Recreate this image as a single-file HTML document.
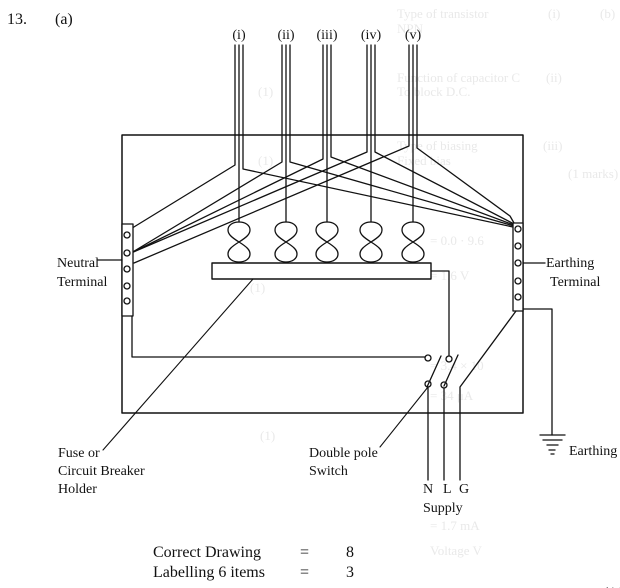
<!DOCTYPE html>
<html>
<head>
<meta charset="utf-8">
<style>
  html, body { margin: 0; padding: 0; background: #fff; }
  svg { display: block; }
  text { font-family: "Liberation Serif", "Times New Roman", serif; fill: #111; }
  .ghost text { fill: #e9e9e9; font-size: 13px; }
</style>
</head>
<body>
<svg width="620" height="588" viewBox="0 0 620 588" xmlns="http://www.w3.org/2000/svg">
  <rect x="0" y="0" width="620" height="588" fill="#fff"/>

  <!-- faint bleed-through text -->
  <g class="ghost">
    <text x="397" y="18">Type of transistor</text>
    <text x="397" y="33">NPN</text>
    <text x="548" y="18">(i)</text>
    <text x="600" y="18">(b)</text>
    <text x="397" y="82">Function of capacitor C</text>
    <text x="397" y="96">To block D.C.</text>
    <text x="258" y="96">(1)</text>
    <text x="546" y="82">(ii)</text>
    <text x="397" y="150">Type of biasing</text>
    <text x="397" y="165">Fixed bias</text>
    <text x="258" y="165">(1)</text>
    <text x="543" y="150">(iii)</text>
    <text x="568" y="178">(1 marks)</text>
    <text x="430" y="245">= 0.0 · 9.6</text>
    <text x="430" y="280">= 1.6 V</text>
    <text x="250" y="292">(1)</text>
    <text x="430" y="370">= 3.4 × 10</text>
    <text x="430" y="400">= 34 μA</text>
    <text x="260" y="440">(1)</text>
    <text x="430" y="530">= 1.7 mA</text>
    <text x="430" y="555">Voltage V</text>
  </g>

  <!-- Header -->
  <text x="7" y="24" font-size="16">13.</text>
  <text x="55" y="24" font-size="16">(a)</text>

  <!-- Top labels -->
  <g font-size="14" text-anchor="middle">
    <text x="239" y="39">(i)</text>
    <text x="286" y="39">(ii)</text>
    <text x="327" y="39">(iii)</text>
    <text x="371" y="39">(iv)</text>
    <text x="413" y="39">(v)</text>
  </g>

  <g fill="none" stroke="#111" stroke-width="1.3" stroke-linejoin="round" stroke-linecap="round">
    <!-- Main box -->
    <rect x="122" y="135" width="401" height="278" stroke-width="1.5"/>

    <!-- (i) -->
    <polyline points="235,45 235,165 129,230"/>
    <polyline points="239,45 239,222"/>
    <polyline points="243,45 243,169 513,227"/>
    <!-- (ii) -->
    <polyline points="282,45 282,162 131,253"/>
    <polyline points="286,45 286,222"/>
    <polyline points="290,45 290,162 514,226"/>
    <!-- (iii) -->
    <polyline points="323,45 323,159 131,253"/>
    <polyline points="327,45 327,222"/>
    <polyline points="331,45 331,157 514,225"/>
    <!-- (iv) -->
    <polyline points="367,45 367,152 131,253"/>
    <polyline points="371,45 371,222"/>
    <polyline points="375,45 375,152 514,224"/>
    <!-- (v) -->
    <polyline points="409,45 409,146 134,263"/>
    <polyline points="413,45 413,222"/>
    <polyline points="417,45 417,148 510,216 514,223"/>

    <!-- Coils (figure eights) -->
    <g id="coils">
      <path d="M239,242 C247,237 250,234 250,230 C250,225 245,222 239,222 C233,222 228,225 228,230 C228,234 231,237 239,242 C247,247 250,250 250,254 C250,259 245,262 239,262 C233,262 228,259 228,254 C228,250 231,247 239,242 Z"/>
      <path d="M286,242 C294,237 297,234 297,230 C297,225 292,222 286,222 C280,222 275,225 275,230 C275,234 278,237 286,242 C294,247 297,250 297,254 C297,259 292,262 286,262 C280,262 275,259 275,254 C275,250 278,247 286,242 Z"/>
      <path d="M327,242 C335,237 338,234 338,230 C338,225 333,222 327,222 C321,222 316,225 316,230 C316,234 319,237 327,242 C335,247 338,250 338,254 C338,259 333,262 327,262 C321,262 316,259 316,254 C316,250 319,247 327,242 Z"/>
      <path d="M371,242 C379,237 382,234 382,230 C382,225 377,222 371,222 C365,222 360,225 360,230 C360,234 363,237 371,242 C379,247 382,250 382,254 C382,259 377,262 371,262 C365,262 360,259 360,254 C360,250 363,247 371,242 Z"/>
      <path d="M413,242 C421,237 424,234 424,230 C424,225 419,222 413,222 C407,222 402,225 402,230 C402,234 405,237 413,242 C421,247 424,250 424,254 C424,259 419,262 413,262 C407,262 402,259 402,254 C402,250 405,247 413,242 Z"/>
    </g>

    <!-- Fuse / breaker bar -->
    <rect x="212" y="263" width="219" height="16" stroke-width="1.4"/>

    <!-- Neutral terminal strip -->
    <rect x="122" y="224" width="11" height="92" fill="#fff"/>
    <circle cx="127" cy="235" r="3"/>
    <circle cx="127" cy="253" r="3"/>
    <circle cx="127" cy="269" r="3"/>
    <circle cx="127" cy="286" r="3"/>
    <circle cx="127" cy="301" r="3"/>
    <line x1="98" y1="260" x2="122" y2="260"/>

    <!-- Earth terminal strip -->
    <rect x="513" y="223" width="10" height="88" fill="#fff"/>
    <circle cx="518" cy="229" r="3"/>
    <circle cx="518" cy="246" r="3"/>
    <circle cx="518" cy="263" r="3"/>
    <circle cx="518" cy="281" r="3"/>
    <circle cx="518" cy="297" r="3"/>
    <line x1="523" y1="263" x2="545" y2="263"/>

    <!-- Neutral return to switch -->
    <polyline points="132,316 132,357 425,357"/>
    <!-- Bar to switch -->
    <polyline points="431,271 449,271 449,356"/>

    <!-- Switch -->
    <circle cx="428" cy="358" r="3"/>
    <circle cx="449" cy="359" r="3"/>
    <circle cx="428" cy="384" r="3"/>
    <circle cx="444" cy="385" r="3"/>
    <line x1="427" y1="387" x2="441" y2="356"/>
    <line x1="444" y1="386" x2="458" y2="355"/>

    <!-- Supply leads -->
    <line x1="428" y1="387" x2="428" y2="480"/>
    <line x1="444" y1="388" x2="444" y2="480"/>
    <polyline points="460,480 460,387 516,311"/>

    <!-- Earth line -->
    <polyline points="523,309 552,309 552,435"/>
    <line x1="540" y1="435" x2="565" y2="435"/>
    <line x1="543" y1="440" x2="562" y2="440"/>
    <line x1="547" y1="445" x2="558" y2="445"/>
    <line x1="549" y1="450" x2="555" y2="450"/>
    <line x1="551" y1="454" x2="554" y2="454"/>

    <!-- Label pointers -->
    <line x1="103" y1="450" x2="253" y2="279" stroke-width="1.1"/>
    <line x1="380" y1="447" x2="428" y2="387" stroke-width="1.1"/>
  </g>

  <!-- Labels -->
  <g font-size="14">
    <text x="57" y="267">Neutral</text>
    <text x="57" y="286">Terminal</text>
    <text x="546" y="267">Earthing</text>
    <text x="550" y="286">Terminal</text>
    <text x="58" y="457">Fuse or</text>
    <text x="58" y="475">Circuit Breaker</text>
    <text x="58" y="493">Holder</text>
    <text x="309" y="457">Double pole</text>
    <text x="309" y="475">Switch</text>
    <text x="423" y="493">N</text>
    <text x="443" y="493">L</text>
    <text x="459" y="493">G</text>
    <text x="423" y="512">Supply</text>
    <text x="569" y="455">Earthing</text>
  </g>

  <g font-size="16">
    <text x="153" y="557">Correct Drawing</text>
    <text x="300" y="557">=</text>
    <text x="346" y="557">8</text>
    <text x="153" y="577">Labelling 6 items</text>
    <text x="300" y="577">=</text>
    <text x="346" y="577">3</text>
    <text x="603" y="598">(11</text>
  </g>
</svg>
</body>
</html>
